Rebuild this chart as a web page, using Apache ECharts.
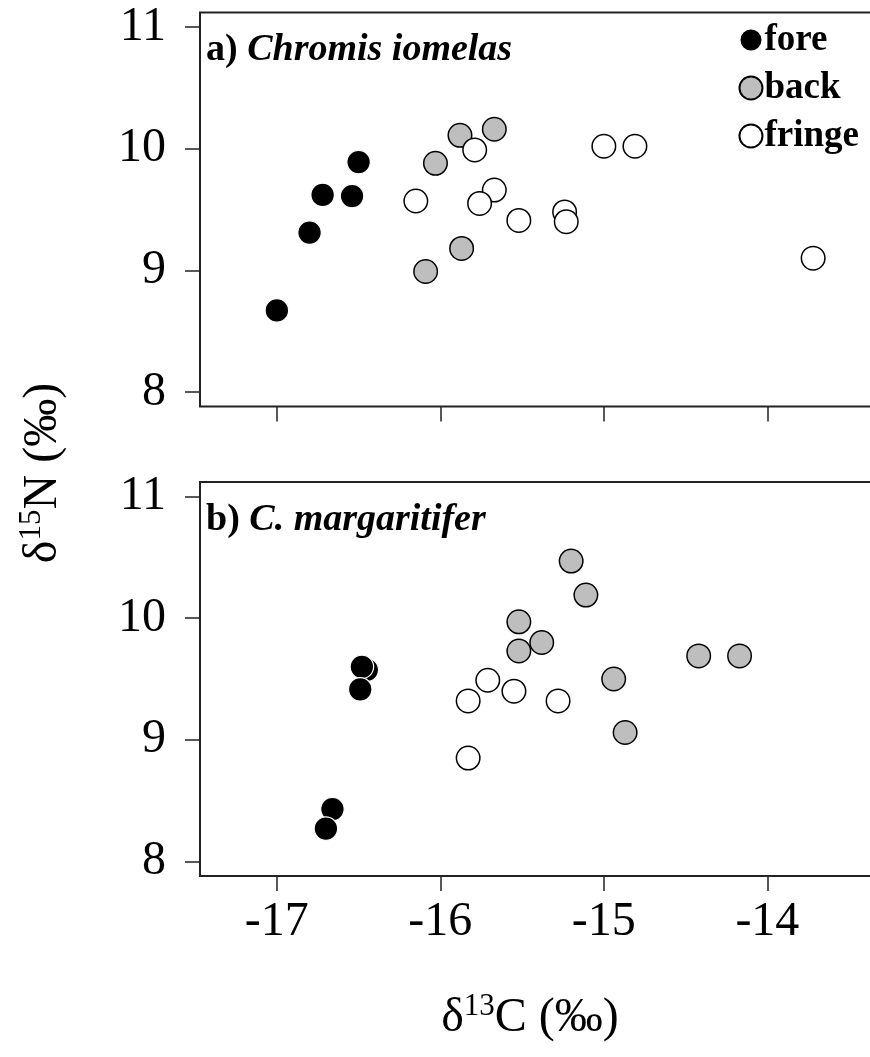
<!DOCTYPE html>
<html>
<head>
<meta charset="utf-8">
<script src="https://cdn.jsdelivr.net/npm/echarts@6/dist/echarts.min.js"></script>
<style>
  html, body { margin: 0; padding: 0; background: #ffffff; overflow: hidden; }
  #chart { width: 870px; height: 1057px; }
</style>
</head>
<body>
<div id="chart"></div>
<script>
// Tick positions for the δ13C (x) and δ15N (y) axes
const xTicks = [-17, -16, -15, -14];
const yTicks = [8, 9, 10, 11];
const groupNames = ['fore', 'back', 'fringe'];

// a) Chromis iomelas — [δ13C, δ15N] per fish
const iomelasFore = [[-17.00, 8.67], [-16.80, 9.31], [-16.72, 9.62], [-16.54, 9.61], [-16.50, 9.89]];
const iomelasBack = [[-15.88, 10.11], [-15.67, 10.16], [-16.03, 9.88], [-15.87, 9.18], [-16.09, 8.99]];
const iomelasFringe = [[-16.15, 9.57], [-15.79, 9.99], [-15.67, 9.66], [-15.76, 9.55], [-15.52, 9.41],
                       [-15.24, 9.48], [-15.23, 9.40], [-15.00, 10.02], [-14.81, 10.02], [-13.72, 9.10]];

// b) C. margaritifer — [δ13C, δ15N] per fish
const margaritiferFore = [[-16.45, 9.575], [-16.48, 9.60], [-16.49, 9.415], [-16.66, 8.43], [-16.70, 8.27]];
const margaritiferBack = [[-15.20, 10.47], [-15.11, 10.19], [-15.52, 9.97], [-15.38, 9.80], [-15.52, 9.73],
                          [-14.42, 9.69], [-14.17, 9.69], [-14.94, 9.50], [-14.87, 9.06]];
const margaritiferFringe = [[-15.71, 9.49], [-15.55, 9.40], [-15.83, 9.32], [-15.28, 9.32], [-15.83, 8.85]];

const FONT = "'Liberation Serif', 'Times New Roman', serif";
const INK = '#222222';

const groupStyle = {
  fore:   { color: '#000000', borderColor: '#ffffff', borderWidth: 1.2 },
  back:   { color: '#bebebe', borderColor: '#000000', borderWidth: 1.5 },
  fringe: { color: '#ffffff', borderColor: '#000000', borderWidth: 1.5 }
};

function makeX(gridIndex, showLabels) {
  return {
    type: 'value', gridIndex: gridIndex, min: -17.47, max: -13.25,
    axisLine: { show: false },
    splitLine: { show: false },
    axisTick: { show: true, length: 15, customValues: xTicks, lineStyle: { color: INK, width: 1.5 } },
    axisLabel: {
      show: showLabels, customValues: xTicks, margin: 22,
      fontFamily: FONT, fontSize: 48, color: '#000'
    }
  };
}

function makeY(gridIndex) {
  return {
    type: 'value', gridIndex: gridIndex, min: 7.88, max: 11.12,
    axisLine: { show: false },
    splitLine: { show: false },
    axisTick: { show: true, length: 15, customValues: yTicks, lineStyle: { color: INK, width: 1.5 } },
    axisLabel: {
      show: true, customValues: yTicks, margin: 34,
      fontFamily: FONT, fontSize: 48, color: '#000'
    }
  };
}

function makeSeries(name, data, gridIndex) {
  return {
    type: 'scatter', name: name, data: data,
    xAxisIndex: gridIndex, yAxisIndex: gridIndex,
    symbol: 'circle', symbolSize: 23.5,
    itemStyle: Object.assign({ opacity: 1 }, groupStyle[name]),
    emphasis: { disabled: true },
    silent: true
  };
}

// The plot box runs past the right edge of the page, so only three sides show
const gridBox = {
  show: true, borderColor: INK, borderWidth: 2, backgroundColor: 'transparent',
  outerBoundsMode: 'none', containLabel: false
};

const panelTitleRich = {
  b: { fontFamily: FONT, fontSize: 38, fontWeight: 'bold', fill: '#000' },
  bi: { fontFamily: FONT, fontSize: 38, fontWeight: 'bold', fontStyle: 'italic', fill: '#000' }
};
const axisTitleRich = {
  m: { fontFamily: FONT, fontSize: 48, lineHeight: 54, fill: '#000' },
  s: { fontFamily: FONT, fontSize: 31, lineHeight: 22, verticalAlign: 'top', fill: '#000' }
};

const option = {
  animation: false,
  backgroundColor: '#ffffff',
  grid: [
    Object.assign({ left: 200, width: 690, top: 12.5, height: 394 }, gridBox),
    Object.assign({ left: 200, width: 690, top: 482, height: 394 }, gridBox)
  ],
  xAxis: [makeX(0, false), makeX(1, true)],
  yAxis: [makeY(0), makeY(1)],
  legend: {
    data: groupNames,
    orient: 'vertical',
    right: 6, top: 15,
    align: 'left',
    icon: 'circle',
    itemWidth: 23, itemHeight: 23,
    itemGap: 8,
    selectedMode: false,
    textStyle: { fontFamily: FONT, fontSize: 37, fontWeight: 'bold', color: '#000', lineHeight: 40, padding: [0, 0, 0, -3] }
  },
  series: [
    makeSeries('fore', iomelasFore, 0),
    makeSeries('back', iomelasBack, 0),
    makeSeries('fringe', iomelasFringe, 0),
    makeSeries('fore', margaritiferFore, 1),
    makeSeries('back', margaritiferBack, 1),
    makeSeries('fringe', margaritiferFringe, 1)
  ],
  graphic: [
    {
      type: 'text', x: 206, y: 50,
      style: { text: '{b|a) }{bi|Chromis iomelas}', verticalAlign: 'middle', align: 'left', rich: panelTitleRich }
    },
    {
      type: 'text', x: 206, y: 520,
      style: { text: '{b|b) }{bi|C. margaritifer}', verticalAlign: 'middle', align: 'left', rich: panelTitleRich }
    },
    {
      // x-axis title: δ13C (‰)
      type: 'text', x: 530, y: 1018,
      style: { text: '{m|δ}{s|13}{m|C (‰)}', align: 'center', verticalAlign: 'middle', rich: axisTitleRich }
    },
    {
      // y-axis title: δ15N (‰), reading bottom to top
      type: 'text', x: 43, y: 473, rotation: Math.PI / 2,
      style: { text: '{m|δ}{s|15}{m|N (‰)}', align: 'center', verticalAlign: 'middle', rich: axisTitleRich }
    }
  ]
};

const chart = echarts.init(document.getElementById('chart'), null, { renderer: 'canvas' });
chart.setOption(option);
</script>
</body>
</html>
